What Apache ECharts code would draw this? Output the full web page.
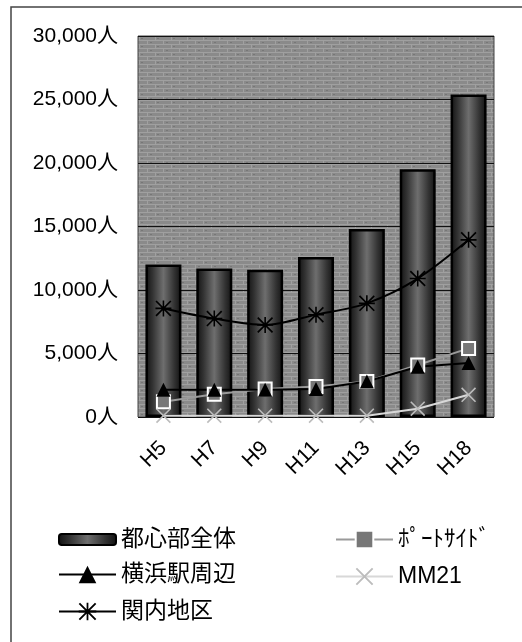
<!DOCTYPE html>
<html>
<head>
<meta charset="utf-8">
<script src="https://cdn.jsdelivr.net/npm/echarts@6/dist/echarts.min.js"></script>
<style>
html,body{margin:0;padding:0;background:#fff;}
#main{width:522px;height:642px;}
</style>
</head>
<body>
<div id="main"></div>
<script>
var years = ['H5','H7','H9','H11','H13','H15','H18'];
var total = [12000, 11700, 11600, 12600, 14800, 19500, 25400];       // 都心部全体
var yokohama = [2150, 2150, 2150, 2200, 2800, 3950, 4250];          // 横浜駅周辺
var kannai = [8550, 7750, 7250, 8050, 8950, 10900, 13950];          // 関内地区
var portside = [1200, 1800, 2200, 2400, 2800, 4100, 5400];           // ポートサイド
var mm21 = [100, 100, 100, 100, 100, 650, 1750];                     // MM21
var yTicks = [0, 5000, 10000, 15000, 20000, 25000, 30000];

var FONT = '"Liberation Sans", "Noto Sans CJK JP", sans-serif';

var ASTER = 'path://M9,0 L11,0 L11,20 L9,20 Z M0,1.5 L1.5,0 L20,18.5 L18.5,20 Z M18.5,0 L20,1.5 L1.5,20 L0,18.5 Z M0,9 L20,9 L20,11 L0,11 Z';
var CROSS = 'path://M0,1.5 L1.5,0 L20,18.5 L18.5,20 Z M18.5,0 L20,1.5 L1.5,20 L0,18.5 Z';

// textured plot background
function makePattern(){
	var c = document.createElement('canvas');
	c.width = 16; c.height = 8;
	var g = c.getContext('2d');
	g.fillStyle = '#8a8a8a';
	g.fillRect(0,0,16,8);
	g.fillStyle = '#a0a0a0';
	g.fillRect(0,0,16,1);
	g.fillRect(0,4,16,1);
	g.fillRect(3,0,1,4);
	g.fillRect(11,4,1,4);
	g.fillStyle = '#777';
	g.fillRect(6,2,2,1);
	g.fillRect(13,6,2,1);
	return c;
}

var barColor = {
	type: 'linear', x: 0, y: 0, x2: 1, y2: 0,
	colorStops: [
		{offset: 0, color: '#111'},
		{offset: 0.2, color: '#333'},
		{offset: 0.5, color: '#6e6e6e'},
		{offset: 0.8, color: '#333'},
		{offset: 1, color: '#111'}
	]
};

var legendText = { fontSize: 23, color: '#000', fontFamily: FONT };

var myChart = echarts.init(document.getElementById('main'));

var option = {
	backgroundColor: '#fff',
	animation: false,
	textStyle: { fontFamily: FONT },
	graphic: [{
		type: 'rect',
		shape: { x: 11, y: 7, width: 530, height: 660 },
		style: { fill: 'none', stroke: '#444', lineWidth: 1.5 },
		silent: true
	}],
	grid: {
		left: 138, right: 28, top: 36, bottom: 225,
		show: true,
		backgroundColor: { image: makePattern(), repeat: 'repeat' },
		borderColor: '#444',
		borderWidth: 1
	},
	legend: [{
		left: 53, top: 523,
		itemWidth: 57, itemHeight: 11,
		textStyle: legendText,
		data: ['都心部全体']
	}, {
		orient: 'vertical',
		left: 53, top: 558,
		itemWidth: 57, itemHeight: 22,
		itemGap: 14,
		textStyle: legendText,
		data: ['横浜駅周辺', '関内地区']
	}, {
		orient: 'vertical',
		left: 330, top: 523,
		itemWidth: 57, itemHeight: 22,
		itemGap: 14,
		textStyle: legendText,
		data: ['ﾎﾟｰﾄｻｲﾄﾞ', 'MM21']
	}],
	xAxis: {
		type: 'category',
		data: years,
		axisLine: { show: false },
		axisTick: { show: false },
		axisLabel: { rotate: 45, fontSize: 21, color: '#000', margin: 28, fontFamily: FONT }
	},
	yAxis: {
		type: 'value',
		min: yTicks[0], max: yTicks[yTicks.length - 1], interval: 5000,
		axisLine: { show: false },
		axisTick: { show: false },
		splitLine: { lineStyle: { color: '#111', width: 1 } },
		axisLabel: {
			fontSize: 21, color: '#000', margin: 20, fontFamily: FONT,
			formatter: function (v) { return v.toLocaleString('en-US') + '人'; }
		}
	},
	series: [{
		name: '都心部全体',
		type: 'bar',
		barWidth: 36,
		data: total,
		itemStyle: { color: barColor, borderColor: '#000', borderWidth: 2.5 }
	}, {
		name: 'ﾎﾟｰﾄｻｲﾄﾞ',
		type: 'line',
		data: portside,
		symbol: 'rect',
		symbolSize: 13,
		lineStyle: { color: '#9a9a9a', width: 2 },
		itemStyle: { color: '#777', borderColor: '#fff', borderWidth: 2 }
	}, {
		name: '横浜駅周辺',
		type: 'line',
		data: yokohama,
		symbol: 'triangle',
		symbolSize: 14,
		lineStyle: { color: '#000', width: 2 },
		itemStyle: { color: '#000' }
	}, {
		name: 'MM21',
		type: 'line',
		data: mm21,
		symbol: CROSS,
		symbolSize: 15,
		lineStyle: { color: '#d8d8d8', width: 2 },
		itemStyle: { color: '#bcbcbc' }
	}, {
		name: '関内地区',
		type: 'line',
		data: kannai,
		smooth: 0.3,
		symbol: ASTER,
		symbolSize: 16,
		lineStyle: { color: '#000', width: 2 },
		itemStyle: { color: '#000' }
	}]
};

myChart.setOption(option, true);
</script>
</body>
</html>
